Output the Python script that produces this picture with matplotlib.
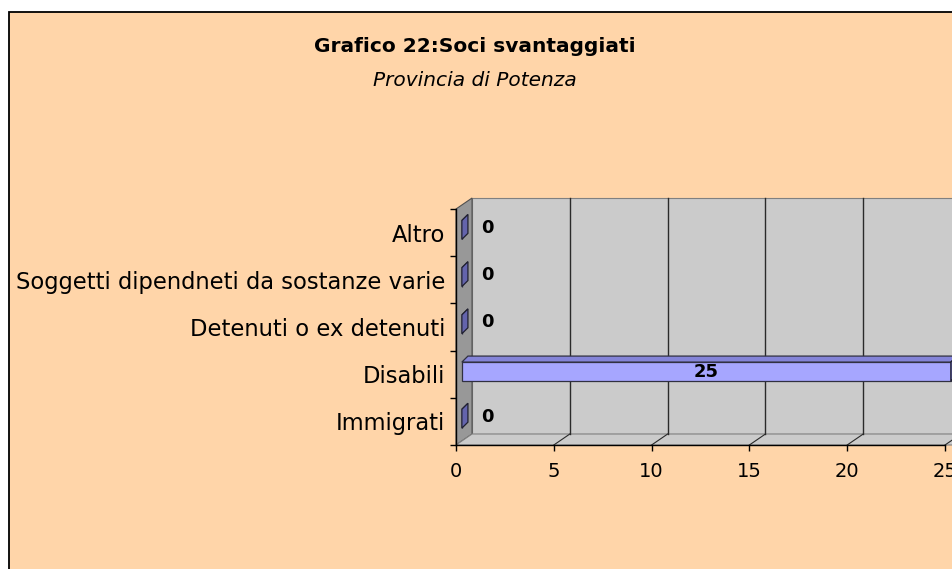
#!/usr/bin/env python3
"""Grafico 22: Soci svantaggiati - Provincia di Potenza (Excel-style 3D bars)."""
import matplotlib
matplotlib.use("Agg")
import matplotlib.pyplot as plt
from matplotlib.patches import Rectangle, Polygon

plt.rcParams.update({
    "font.family": ["DejaVu Sans"],
})

categories = ["Immigrati", "Disabili", "Detenuti o ex detenuti",
              "Soggetti dipendneti da sostanze varie", "Altro"]
values = [0, 25, 0, 0, 0]
xticks = [0, 5, 10, 15, 20, 25]
title = "Grafico 22:Soci svantaggiati"
subtitle = "Provincia di Potenza"

PEACH = "#FFD5A9"
WALL = "#CBCBCB"
SIDEWALL = "#989898"
FRONT = "#A6A6FF"
TOP = "#8484D8"
SIDE = "#6464AC"

# depth offsets in data units (front plane -> back wall)
WDX, WDY = 0.82, 0.233
BX, BY = 0.30, 0.057      # bar front face offset
BDX, BDY = 0.31, 0.127    # bar depth
H = 0.40

W, Hh = 952, 569
fig = plt.figure(figsize=(W / 100, Hh / 100), dpi=100)
fig.patch.set_facecolor("white")
fig.add_artist(Rectangle((9 / W, -0.1), 1.5, (Hh - 12) / Hh + 0.1,
                         transform=fig.transFigure, fc=PEACH, ec="black",
                         lw=1.3, zorder=-10))

fig.text(475 / W, 1 - 47 / Hh, title, ha="center", va="center",
         fontsize=14.5, fontweight="bold")
fig.text(475 / W, 1 - 80 / Hh, subtitle, ha="center", va="center",
         fontsize=14.5, style="italic")

ax = fig.add_axes([456 / W, 1 - 445 / Hh, 489 / W, 236 / Hh])
ax.set_facecolor("none")
n = len(categories)
ax.set_xlim(0, 25)
ax.set_ylim(-0.5, n - 0.5)
y0, y1 = -0.5, n - 0.5

# back wall, left wall, floor
ax.add_patch(Rectangle((WDX, y0 + WDY), 25, n, fc=WALL, ec="#808080",
                       lw=0.8, clip_on=False, zorder=1))
ax.add_patch(Polygon([(0, y0), (0, y1), (WDX, y1 + WDY), (WDX, y0 + WDY)],
                     closed=True, fc=SIDEWALL, ec="#505050", lw=0.8,
                     clip_on=False, zorder=1))
ax.add_patch(Polygon([(0, y0), (25 + WDX, y0), (25 + WDX + WDX, y0 + WDY),
                      (WDX, y0 + WDY)],
                     closed=True, fc=WALL, ec="#808080", lw=0.8,
                     clip_on=False, zorder=1))

# gridlines on wall and floor
for t in xticks[1:]:
    ax.plot([t + WDX, t + WDX], [y0 + WDY, y1 + WDY], color="#2a2a2a",
            lw=1.0, clip_on=False, zorder=2)
    ax.plot([t, t + WDX], [y0, y0 + WDY], color="#2a2a2a", lw=0.8,
            clip_on=False, zorder=2)

# bars: front face, top face, side face
ypos = list(range(n))
ax.barh([y + BY for y in ypos], values, left=BX, height=H, color=FRONT,
        edgecolor="#303040", lw=0.9, zorder=4, clip_on=False)
for y, v in zip(ypos, values):
    yc = y + BY
    top = [(BX, yc + H / 2), (BX + v, yc + H / 2),
           (BX + v + BDX, yc + H / 2 + BDY), (BX + BDX, yc + H / 2 + BDY)]
    side = [(BX + v, yc - H / 2), (BX + v, yc + H / 2),
            (BX + v + BDX, yc + H / 2 + BDY), (BX + v + BDX, yc - H / 2 + BDY)]
    ax.add_patch(Polygon(top, closed=True, fc=TOP, ec="#303040", lw=0.9,
                         clip_on=False, zorder=5))
    ax.add_patch(Polygon(side, closed=True, fc=SIDE, ec="#202030", lw=0.9,
                         clip_on=False, zorder=5))
    if v == 0:
        ax.text(1.3, y + 0.1, str(v), ha="left", va="center",
                fontsize=13, fontweight="bold", zorder=6)
    else:
        ax.text(BX + v / 2, yc, str(v), ha="center", va="center",
                fontsize=13, fontweight="bold", zorder=6)

# axes: front edges
for s in ["top", "right"]:
    ax.spines[s].set_visible(False)
for s in ["left", "bottom"]:
    ax.spines[s].set_color("black")
    ax.spines[s].set_linewidth(1.0)
    ax.spines[s].set_zorder(3)

ax.set_xticks(xticks)
ax.set_xticklabels([str(t) for t in xticks], fontsize=14)
ax.tick_params(axis="x", length=4.3, width=1.0, pad=8)
ax.set_yticks([y - 0.5 for y in range(n + 1)])
ax.set_yticklabels([])
ax.set_yticks(ypos, minor=True)
ax.set_yticklabels(categories, minor=True, fontsize=16.3)
ax.tick_params(axis="y", which="major", length=4.3, width=1.0)
ax.tick_params(axis="y", which="minor", length=0, pad=8)

fig.savefig("out.png", dpi=100)
